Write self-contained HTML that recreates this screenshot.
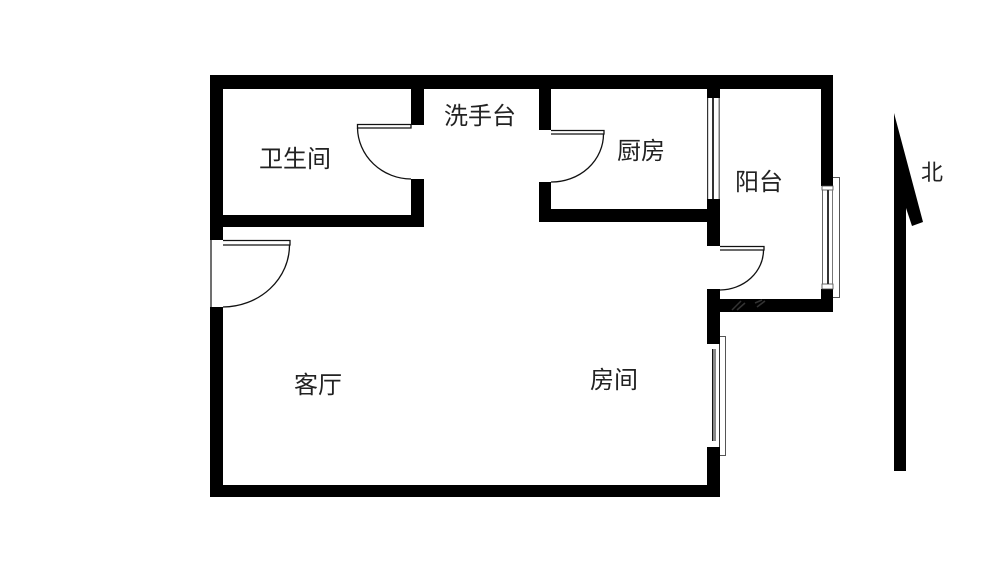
<!DOCTYPE html>
<html><head><meta charset="utf-8"><style>
html,body{margin:0;padding:0;background:#fff}
svg{display:block}
text{font-family:"Liberation Sans","WenQuanYi Zen Hei","Noto Sans CJK SC",sans-serif;font-size:24px;fill:#222}
</style></head><body>
<svg width="1000" height="572" viewBox="0 0 1000 572" xmlns="http://www.w3.org/2000/svg">
<rect width="1000" height="572" fill="#fff"/>
<g fill="#000">
<rect x="210" y="75" width="623" height="14"/>
<rect x="210" y="75" width="13" height="165"/>
<rect x="210" y="307" width="13" height="190"/>
<rect x="210" y="485" width="510" height="12"/>
<rect x="411" y="89" width="13" height="36"/>
<rect x="411" y="179" width="13" height="48"/>
<rect x="223" y="215" width="201" height="12"/>
<rect x="539" y="89" width="12" height="41"/>
<rect x="539" y="182" width="12" height="40"/>
<rect x="539" y="209" width="170" height="13"/>
<rect x="707" y="89" width="13" height="9"/>
<rect x="707" y="199" width="13" height="47"/>
<rect x="707" y="289" width="13" height="55"/>
<rect x="707" y="447" width="13" height="50"/>
<rect x="707" y="299" width="126" height="13"/>
<rect x="821" y="75" width="12" height="111"/>
<rect x="821" y="289" width="12" height="23"/>
<polygon points="894,113 894,471 906,471 906,208 912,226 923,222"/>
</g>
<g fill="none" stroke="#111" stroke-width="1.300">
<path d="M357.500 124.500H411V128H357.500Z"/>
<path d="M357.500 128A54 52 0 0 0 411 179"/>
<path d="M551 130.500H604V134H551"/>
<path d="M603.500 134A52 48 0 0 1 551 182"/>
<path d="M720 246.500H764V250H720"/>
<path d="M763.500 250A44 40 0 0 1 720 290"/>
<path d="M223 240.500H290V245H223"/>
<path d="M289.500 245A67 62 0 0 1 223 307"/>
<path d="M211 240V307" stroke="#222"/>
</g>
<!-- kitchen/balcony window -->
<rect x="707" y="98" width="1.200" height="101" fill="#333"/>
<rect x="712" y="98" width="2" height="101" fill="#333"/>
<rect x="718.500" y="98" width="1.500" height="101" fill="#777"/>
<!-- east window -->
<g fill="none" stroke="#555" stroke-width="1">
<path d="M833 177.500H839.500V297.500H833"/>
</g>
<rect x="822" y="186" width="11" height="4" fill="#fff" stroke="#444" stroke-width="0.800"/>
<rect x="822" y="284" width="11" height="5" fill="#fff" stroke="#444" stroke-width="0.800"/>
<rect x="822" y="190" width="1" height="94" fill="#666"/>
<rect x="827" y="190" width="2" height="94" fill="#333"/>
<rect x="832" y="190" width="1" height="94" fill="#777"/>
<!-- south room window -->
<path d="M720 336.500H725.500V455.500H720" fill="none" stroke="#555" stroke-width="1"/>
<rect x="708" y="344.500" width="11" height="4.500" fill="#fff"/>
<rect x="708" y="441.500" width="11" height="5" fill="#fff"/>
<rect x="712" y="349" width="1.500" height="92" fill="#111"/>
<rect x="714" y="349" width="2" height="92" fill="#888"/>
<rect x="719" y="344" width="1" height="103" fill="#333"/>
<!-- faint illegible watermark marks on the wall -->
<g fill="none" stroke="#333" stroke-width="1.500">
<path d="M732 310L741 301"/>
<path d="M737 310L745 303"/>
<path d="M755 303L762 300"/>
<path d="M757 307L765 301"/>
</g>
<text x="259" y="167">卫生间</text>
<text x="444" y="124">洗手台</text>
<text x="617" y="159">厨房</text>
<text x="735" y="190">阳台</text>
<text x="294" y="393">客厅</text>
<text x="590" y="388">房间</text>
<text x="921" y="180" style="font-size:22px">北</text>
</svg>
</body></html>
